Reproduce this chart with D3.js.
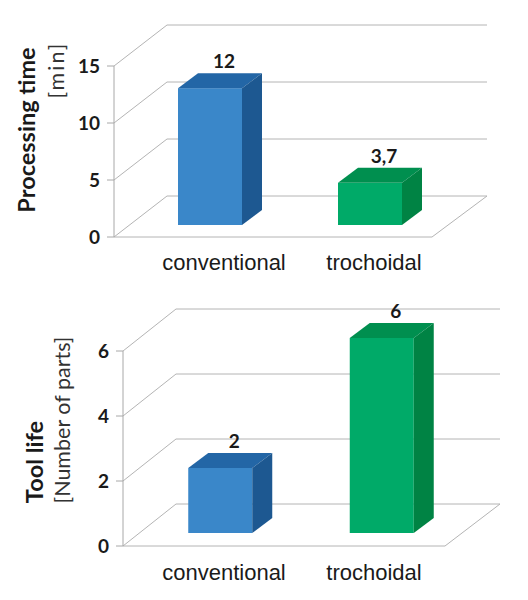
<html>
  <head>
    <script src="https://cdn.jsdelivr.net/npm/d3@7"></script>
    <style>
      body { margin: 0; background: #fff; }
    </style>
  </head>
  <body>
    <div id="container"></div>
    <script>
      // data
      const categories = ["conventional", "trochoidal"];
      const timeValues = [12, 3.7];
      const timeTicks = [0, 5, 10, 15];
      const lifeValues = [2, 6];
      const lifeTicks = [0, 2, 4, 6];

      const fmt = d3.formatLocale({ decimal: ",", thousands: ".", grouping: [3], currency: ["", ""] }).format("~g");

      const faceColors = [
        { front: "#3a87c9", top: "#2366a6", side: "#1d5891" },
        { front: "#00aa68", top: "#008f4f", side: "#008344" },
      ];

      const W = 528, H = 600;
      const svg = d3.select("#container").append("svg")
        .attr("width", W).attr("height", H)
        .style("background", "#fff");

      const numFont = "Lato, 'Open Sans', sans-serif";
      const catFont = "'Liberation Sans', Arial, sans-serif";

      function drawPanel(p) {
        const g = svg.append("g");
        const y = d3.scaleLinear().domain([0, d3.max(p.ticks)]).range([p.y0, p.yTop]);
        const [ddx, ddy] = p.depth;

        // back wall gridlines + left wall diagonals
        g.selectAll(".grid").data(p.ticks).enter().append("path")
          .attr("d", d => `M${p.axisX},${y(d)}L${p.axisX + ddx},${y(d) + ddy}L${p.backEnd},${y(d) + ddy}`)
          .attr("fill", "none").attr("stroke", "#b4b4b4").attr("stroke-width", 1);

        // floor front and right edge
        g.append("path")
          .attr("d", `M${p.axisX},${y(0)}L${p.floorEnd},${y(0)}L${p.backEnd},${y(0) + ddy}`)
          .attr("fill", "none").attr("stroke", "#b4b4b4").attr("stroke-width", 1);

        // axis line + ticks
        g.append("line")
          .attr("x1", p.axisX).attr("x2", p.axisX)
          .attr("y1", y(0)).attr("y2", y(d3.max(p.ticks)))
          .attr("stroke", "#a8a8a8");
        g.selectAll(".tick").data(p.ticks).enter().append("line")
          .attr("x1", p.axisX - 7).attr("x2", p.axisX)
          .attr("y1", d => y(d)).attr("y2", d => y(d))
          .attr("stroke", "#a8a8a8");
        g.selectAll(".tlab").data(p.ticks).enter().append("text")
          .attr("x", p.axisX - 14).attr("y", d => y(d) + 7)
          .attr("text-anchor", "end")
          .style("font-family", numFont).style("font-weight", "bold").style("font-size", "19px")
          .style("fill", "#1a1a1a")
          .text(d => d);

        // bars
        const x = d3.scaleBand().domain(categories).range(p.barRange);
        const bw = 64, bdx = 20, bdy = -15;
        const bars = g.selectAll(".bar").data(p.values).enter().append("g");
        const left = (d, i) => x(categories[i]) + x.bandwidth() / 2 - bw / 2;
        const base = y(0) - p.barLift;
        const top = d => base - (y(0) - y(d));

        bars.append("rect")
          .attr("x", left).attr("y", top)
          .attr("width", bw).attr("height", d => base - top(d))
          .attr("fill", (d, i) => faceColors[i].front);
        bars.append("path")
          .attr("d", (d, i) => {
            const l = left(d, i), t = top(d);
            return `M${l},${t}L${l + bdx},${t + bdy}L${l + bw + bdx},${t + bdy}L${l + bw},${t}Z`;
          })
          .attr("fill", (d, i) => faceColors[i].top);
        bars.append("path")
          .attr("d", (d, i) => {
            const r = left(d, i) + bw, t = top(d);
            return `M${r},${t}L${r + bdx},${t + bdy}L${r + bdx},${base + bdy}L${r},${base}Z`;
          })
          .attr("fill", (d, i) => faceColors[i].side);
        bars.append("text")
          .attr("x", (d, i) => left(d, i) + bw / 2 + 14)
          .attr("y", d => top(d) + bdy - 5)
          .attr("text-anchor", "middle")
          .style("font-family", numFont).style("font-weight", "bold").style("font-size", "19px")
          .style("fill", "#1a1a1a")
          .text(d => fmt(d));

        // category labels
        const xl = d3.scalePoint().domain(categories).range([224, 374]);
        g.selectAll(".cat").data(categories).enter().append("text")
          .attr("x", d => xl(d)).attr("y", p.labelY)
          .attr("text-anchor", "middle")
          .style("font-family", catFont).style("font-size", "22px")
          .style("fill", "#1a1a1a")
          .text(d => d);

        // axis titles
        g.append("text")
          .attr("transform", `translate(${p.title[1]},${p.title[2]}) rotate(-90)`)
          .attr("text-anchor", "middle")
          .style("font-family", numFont).style("font-weight", "bold").style("font-size", "23.5px")
          .style("fill", "#1a1a1a")
          .text(p.title[0]);
        g.append("text")
          .attr("transform", `translate(${p.unit[1]},${p.unit[2]}) rotate(-90)`)
          .attr("text-anchor", "middle")
          .style("font-family", numFont).style("font-size", "21.5px")
          .style("letter-spacing", p.unit[3])
          .style("fill", "#333")
          .text(p.unit[0]);
      }

      drawPanel({
        values: timeValues, ticks: timeTicks,
        axisX: 114, y0: 237, yTop: 66, depth: [53, -41],
        backEnd: 487, floorEnd: 432, barRange: [130, 450], barLift: 12,
        labelY: 270,
        title: ["Processing time", 35, 130], unit: ["[min]", 64, 70, "2px"],
      });
      drawPanel({
        values: lifeValues, ticks: lifeTicks,
        axisX: 123, y0: 546, yTop: 351, depth: [53, -42],
        backEnd: 500, floorEnd: 445, barRange: [139.5, 462.5], barLift: 13,
        labelY: 580,
        title: ["Tool life", 43, 462], unit: ["[Number of parts]", 70, 420, "0px"],
      });
    </script>
  </body>
</html>
